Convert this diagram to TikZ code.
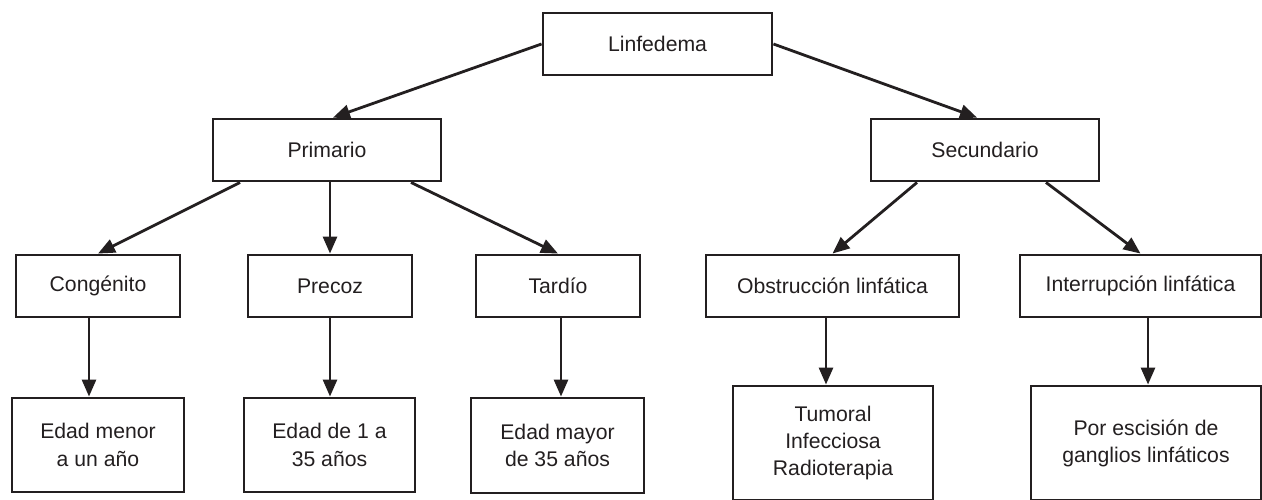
\documentclass[tikz,border=0pt]{standalone}
\usepackage{fontspec}
\setmainfont{Liberation Sans}
\usetikzlibrary{arrows.meta}
\definecolor{ink}{HTML}{231F20}
\begin{document}
\begin{tikzpicture}[x=0.5pt,y=-0.5pt,
  box/.style={draw=ink, line width=1.45pt, fill=white, text=ink, align=center,
    inner sep=0pt, font=\fontsize{10.6}{13.6}\selectfont},
  arr/.style={draw=ink, line width=1.4pt, -{Triangle[length=8.5pt,width=7pt]}}]
\useasboundingbox (0,0) rectangle (1262,499);
\fill[white] (0,0) rectangle (1262,499);
% level 0
\node[box, minimum width=114.5pt, minimum height=31pt] (L) at (657.5,44) {Linfedema};
% level 1
\node[box, minimum width=114pt, minimum height=31pt] (P) at (327,150) {Primario};
\node[box, minimum width=114pt, minimum height=31pt] (S) at (985,150) {Secundario};
% level 2
\node[box, minimum width=82pt, minimum height=31pt] (C) at (98,286) {Congénito};
\node[box, minimum width=82pt, minimum height=31pt] (Pr) at (330,286) {Precoz};
\node[box, minimum width=82pt, minimum height=31pt] (T) at (558,286) {Tardío};
\node[box, minimum width=126.5pt, minimum height=31pt] (O) at (832.5,286) {Obstrucción linfática};
\node[box, minimum width=120.5pt, minimum height=31pt] (I) at (1140.5,286) {Interrupción linfática};
% level 3
\node[box, minimum width=86pt, minimum height=47pt] (M) at (98,445) {Edad menor\\a un año};
\node[box, minimum width=85.5pt, minimum height=47pt] (D) at (329.5,445) {Edad de 1 a\\35 años};
\node[box, minimum width=86.5pt, minimum height=47.5pt] (Y) at (557.5,445.5) {Edad mayor\\de 35 años};
\node[box, minimum width=100pt, minimum height=57pt] (Tu) at (833,443) {Tumoral\\Infecciosa\\Radioterapia};
\node[box, minimum width=115pt, minimum height=57pt] (E) at (1146,443) {Por escisión de\\ganglios linfáticos};
% connectors
\draw[arr] (L.west) -- ([xshift=3pt]P.north);
\draw[arr] (L.east) -- ([xshift=-4pt]S.north);
\draw[arr] ([xshift=-43.5pt]P.south) -- (C.north);
\draw[arr] (Pr.north |- P.south) -- (Pr.north);
\draw[arr] ([xshift=42pt]P.south) -- (T.north);
\draw[arr] ([xshift=-34pt]S.south) -- (O.north);
\draw[arr] ([xshift=30.5pt]S.south) -- (I.north);
\draw[arr] ([xshift=-4.5pt]C.south) -- ([xshift=-4.5pt]C.south |- M.north);
\draw[arr] (Pr.south) -- (Pr.south |- D.north);
\draw[arr] ([xshift=1.5pt]T.south) -- ([xshift=1.5pt]T.south |- Y.north);
\draw[arr] ([xshift=-3.25pt]O.south) -- ([xshift=-3.25pt]O.south |- Tu.north);
\draw[arr] ([xshift=3.75pt]I.south) -- ([xshift=3.75pt]I.south |- E.north);
\end{tikzpicture}
\end{document}
